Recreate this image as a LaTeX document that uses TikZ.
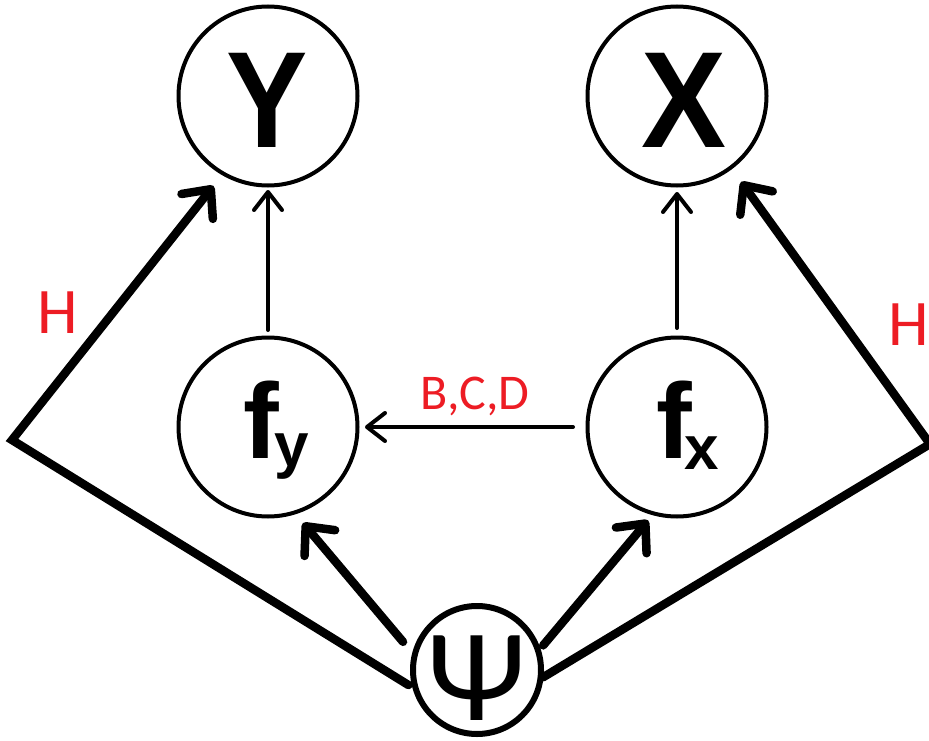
\documentclass[tikz,border=0pt]{standalone}
\usepackage{fontspec}
\usepackage{graphicx}
\usetikzlibrary{arrows.meta}
\newfontfamily\labelsans{Liberation Sans}
\newfontfamily\redsans{Carlito}
\definecolor{labelred}{RGB}{237,28,36}

\begin{document}
\begin{tikzpicture}[x=1pt,y=-1pt,
  varnode/.style={circle,draw,line width=4pt,minimum size=179pt,inner sep=0pt,outer sep=0pt},
  psinode/.style={circle,draw,line width=6pt,minimum size=128pt,inner sep=0pt,outer sep=0pt},
  thinlink/.style={line width=4pt,line cap=round,-{Straight Barb[length=18pt,width=28pt,round]}},
  thicklink/.style={line width=8.5pt,line cap=round,-{Straight Barb[length=22pt,width=40pt,round]}},
  biglabel/.style={font=\labelsans\bfseries\fontsize{137}{137}\selectfont,inner sep=0pt,anchor=base},
  flabel/.style={font=\labelsans\bfseries\fontsize{107}{107}\selectfont,inner sep=0pt,anchor=base west},
  psilabel/.style={font=\redsans\fontsize{132}{132}\selectfont,inner sep=0pt,anchor=base},
  redlabel/.style={font=\redsans\fontsize{65}{65}\selectfont,text=labelred,inner sep=0pt,anchor=base},
  edgelabel/.style={font=\redsans\fontsize{50}{50}\selectfont,text=labelred,inner sep=0pt,anchor=base}
]
% canvas
\fill[white] (0,0) rectangle (929,741);
\useasboundingbox (0,0) rectangle (929,741);

% variables
\node[varnode] (Y) at (268,96) {};
\node[varnode] (X) at (677,96) {};
\node[varnode] (fy) at (268,427) {};
\node[varnode] (fx) at (677,427) {};
\node[psinode] (psi) at (477,670) {};

% symbols inside the circles
\node[biglabel] (ytext) at (267.5,147) {\scalebox{0.89}[1]{Y}};
\node[biglabel] (xtext) at (683.5,147) {\scalebox{0.93}[1]{X}};
\node[flabel] (fytext) at (243,458) {f\kern-4pt\raisebox{-8pt}{\fontsize{62}{62}\selectfont y}};
\node[flabel] (fxtext) at (656,458) {f\kern-7pt\raisebox{-11pt}{\fontsize{62}{62}\selectfont x}};
\node[psilabel] (psitext) at (477,720) {Ψ};

% bend points of the outer paths
\coordinate (hl) at (12,440);
\coordinate (hr) at (930,444);

% outer paths from psi to the observed variables
\draw[thicklink,shorten <=9pt,shorten >=15.75pt] (psi.198.3) -- (hl) -- (Y.-120.6);
\draw[thicklink,shorten <=3pt,shorten >=17.6pt] (psi.-8.4) -- (hr) -- (X.-53.7);

% psi to the latent functions
\draw[thicklink,shorten <=18pt,shorten >=13.6pt] (psi.167) -- (fy.-73);
\draw[thicklink,shorten <=7.7pt,shorten >=8.9pt] (psi.17.4) -- (fx.-105.7);

% functions to variables
\draw[thinlink,shorten <=7.5pt,shorten >=4.5pt] (fy.north) -- (Y.south);
\draw[thinlink,shorten <=9.5pt,shorten >=6.5pt] (fx.north) -- (X.south);
\draw[thinlink,shorten <=14.5pt,shorten >=7.5pt] (fx.west) -- (fy.east);

% edge labels
\node[redlabel] (hleft) at (58,333) {H};
\node[redlabel] (hright) at (909,345) {H};
\node[edgelabel] (bcd) at (475,409) {B,C,D};
\end{tikzpicture}
\end{document}
